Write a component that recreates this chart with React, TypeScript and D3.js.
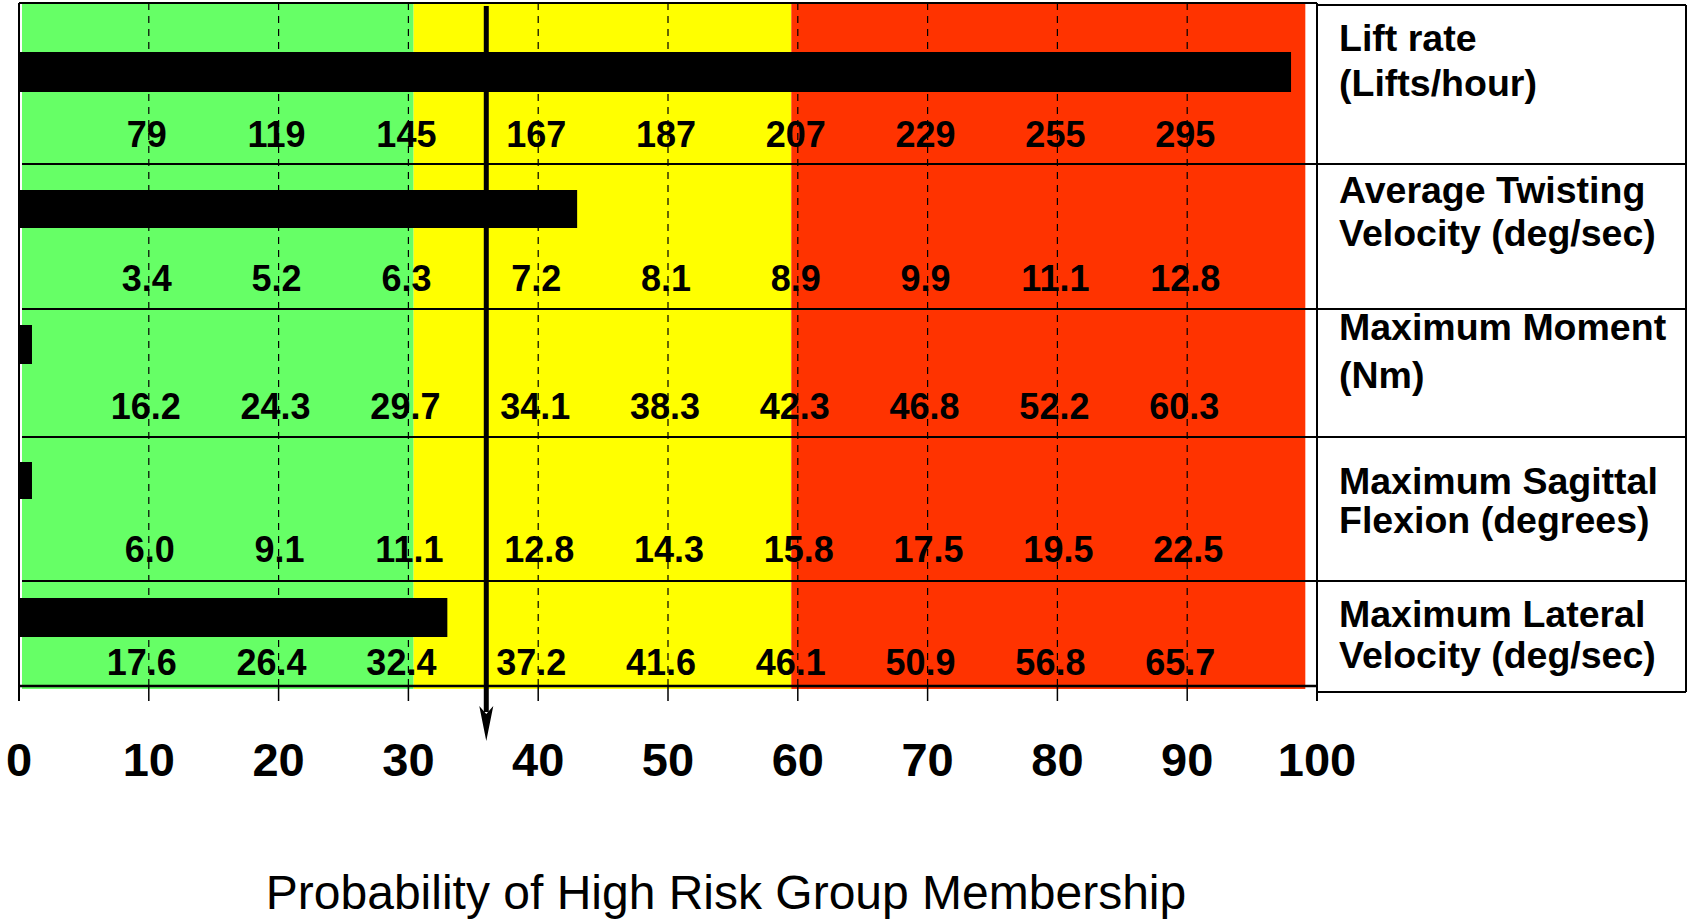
import React from "react";
import * as d3 from "d3";

// ---------- DATA ----------
const rowTitles: string[][] = [
  ["Lift rate", "(Lifts/hour)"],
  ["Average Twisting", "Velocity (deg/sec)"],
  ["Maximum Moment", "(Nm)"],
  ["Maximum Sagittal", "Flexion (degrees)"],
  ["Maximum Lateral", "Velocity (deg/sec)"],
];
const barValues: number[] = [98, 43, 1, 1, 33];

const liftRateLabels = ["79", "119", "145", "167", "187", "207", "229", "255", "295"];
const twistLabels = ["3.4", "5.2", "6.3", "7.2", "8.1", "8.9", "9.9", "11.1", "12.8"];
const momentLabels = ["16.2", "24.3", "29.7", "34.1", "38.3", "42.3", "46.8", "52.2", "60.3"];
const sagittalLabels = ["6.0", "9.1", "11.1", "12.8", "14.3", "15.8", "17.5", "19.5", "22.5"];
const lateralLabels = ["17.6", "26.4", "32.4", "37.2", "41.6", "46.1", "50.9", "56.8", "65.7"];
const rowValueLabels = [liftRateLabels, twistLabels, momentLabels, sagittalLabels, lateralLabels];

const gridValues = [10, 20, 30, 40, 50, 60, 70, 80, 90];
const axisTicks = [0, 10, 20, 30, 40, 50, 60, 70, 80, 90, 100];

const zoneStart = [0, 30.4, 59.5];
const zoneEnd = [30.4, 59.5, 99.1];

const markerValue = 36;
const axisTitle = "Probability of High Risk Group Membership";

// ---------- STYLE / LAYOUT ----------
const zoneColors = ["#66FF66", "#FFFF00", "#FF3300"];
const FONT = "'Liberation Sans', Arial, Helvetica, sans-serif";

const W = 1689;
const H = 922;
const PLOT_TOP = 3;
const AXIS_Y = 686;
const TICK_END = 701;
const BOX_LEFT = 1317;
const BOX_RIGHT = 1686;
const BOX_TOP = 5;
const BOX_BOTTOM = 692;

const ROWS = [
  { top: 3, bottom: 164, barY: 52, barH: 40, numY: 147, numDx: -2, labelY: [51, 96] },
  { top: 164, bottom: 309, barY: 190, barH: 38, numY: 291, numDx: -2, labelY: [203, 246] },
  { top: 309, bottom: 437, barY: 325, barH: 39, numY: 419, numDx: -3, labelY: [340, 388] },
  { top: 437, bottom: 581, barY: 462, barH: 37, numY: 562, numDx: 1, labelY: [494, 533] },
  { top: 581, bottom: 686, barY: 598, barH: 39, numY: 675, numDx: -7, labelY: [627, 668] },
];

export default function App() {
  const x = d3.scaleLinear().domain([0, 100]).range([19, 1317]);
  const mx = x(markerValue);

  const arrowPath = d3.path();
  arrowPath.moveTo(mx, 741);
  arrowPath.lineTo(mx - 7, 706);
  arrowPath.lineTo(mx, 714);
  arrowPath.lineTo(mx + 7, 706);
  arrowPath.closePath();

  return (
    <svg
      width={W}
      height={H}
      style={{ position: "absolute", left: 0, top: 0, background: "#fff" }}
      fontFamily={FONT}
    >
      {/* zones */}
      {zoneStart.map((s, i) => (
        <rect
          key={"z" + i}
          x={i === 0 ? x(s) + 3 : x(s)}
          y={PLOT_TOP + 1}
          width={x(zoneEnd[i]) - (i === 0 ? x(s) + 3 : x(s))}
          height={AXIS_Y + 3 - PLOT_TOP - 1}
          fill={zoneColors[i]}
        />
      ))}

      {/* dashed gridlines */}
      {gridValues.map((v) => (
        <line
          key={"g" + v}
          x1={x(v)}
          x2={x(v)}
          y1={PLOT_TOP}
          y2={AXIS_Y}
          stroke="#000"
          strokeWidth={1.2}
          strokeDasharray="7,6"
        />
      ))}

      {/* row dividers (through label box) */}
      {ROWS.slice(0, 4).map((r, i) => (
        <line
          key={"d" + i}
          x1={x(0) + 3}
          x2={BOX_RIGHT + 1}
          y1={r.bottom}
          y2={r.bottom}
          stroke="#000"
          strokeWidth={2}
        />
      ))}

      {/* bars */}
      {barValues.map((v, i) => (
        <rect
          key={"b" + i}
          x={x(0)}
          y={ROWS[i].barY}
          width={x(v) - x(0)}
          height={ROWS[i].barH}
          fill="#000"
        />
      ))}

      {/* value labels */}
      {rowValueLabels.map((labels, i) =>
        labels.map((t, j) => (
          <text
            key={"n" + i + "-" + j}
            x={x(gridValues[j]) + ROWS[i].numDx}
            y={ROWS[i].numY}
            textAnchor="middle"
            fontSize={36}
            fontWeight="bold"
            fill="#000"
          >
            {t}
          </text>
        ))
      )}

      {/* plot frame */}
      <line x1={x(0)} x2={x(100)} y1={PLOT_TOP} y2={PLOT_TOP} stroke="#000" strokeWidth={2} />
      <line x1={x(0)} x2={x(0)} y1={PLOT_TOP} y2={TICK_END} stroke="#000" strokeWidth={2} />
      <line x1={x(100)} x2={x(100)} y1={PLOT_TOP} y2={TICK_END} stroke="#000" strokeWidth={2} />
      <line x1={x(0)} x2={x(100)} y1={AXIS_Y} y2={AXIS_Y} stroke="#000" strokeWidth={2.5} />

      {/* ticks */}
      {axisTicks.map((v) => (
        <line key={"t" + v} x1={x(v)} x2={x(v)} y1={AXIS_Y} y2={TICK_END} stroke="#000" strokeWidth={1.5} />
      ))}
      {axisTicks.map((v) => (
        <text
          key={"tl" + v}
          x={x(v)}
          y={776}
          textAnchor="middle"
          fontSize={47}
          fontWeight="bold"
          fill="#000"
        >
          {v}
        </text>
      ))}

      {/* label box */}
      <line x1={BOX_LEFT} x2={BOX_RIGHT} y1={BOX_TOP} y2={BOX_TOP} stroke="#000" strokeWidth={2} />
      <line x1={BOX_RIGHT} x2={BOX_RIGHT} y1={BOX_TOP} y2={BOX_BOTTOM} stroke="#000" strokeWidth={2} />
      <line x1={BOX_LEFT} x2={BOX_RIGHT} y1={BOX_BOTTOM} y2={BOX_BOTTOM} stroke="#000" strokeWidth={2} />
      {rowTitles.map((lines, i) =>
        lines.map((t, k) => (
          <text
            key={"rt" + i + "-" + k}
            x={1339}
            y={ROWS[i].labelY[k]}
            fontSize={37.5}
            fontWeight="bold"
            fill="#000"
          >
            {t}
          </text>
        ))
      )}

      {/* marker arrow */}
      <line x1={mx} x2={mx} y1={PLOT_TOP + 3} y2={712} stroke="#000" strokeWidth={5} />
      <path d={arrowPath.toString()} fill="#000" />

      {/* axis title */}
      <text x={726} y={909} textAnchor="middle" fontSize={48} fill="#000">
        {axisTitle}
      </text>
    </svg>
  );
}
